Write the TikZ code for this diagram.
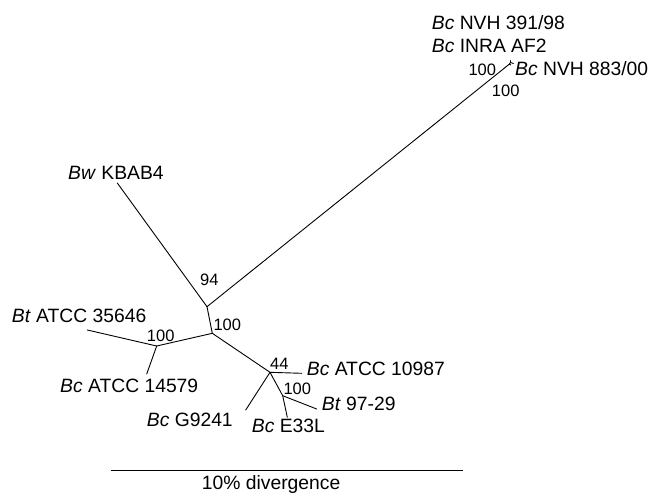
\documentclass[tikz,border=0pt]{standalone}
\usepackage{fontspec}
\setmainfont{Liberation Sans}
\begin{document}
\begin{tikzpicture}[x=1pt,y=-1pt,
  branch/.style={line width=0.9pt, line cap=round},
  taxon/.style={inner sep=0pt, anchor=base west, font=\fontsize{19.3}{22}\selectfont},
  boot/.style={inner sep=0pt, anchor=base west, font=\fontsize{16.5}{19}\selectfont},
  pt/.style={inner sep=0pt, minimum size=0pt}]
\useasboundingbox (0,0) rectangle (652,493);
% internal nodes
\coordinate (A) at (207,306.7);
\coordinate (B) at (212.3,333.3);
\coordinate (C) at (156.7,346);
\coordinate (D) at (270,372.3);
\coordinate (E) at (282.7,395.7);
\coordinate (N1) at (509.5,64);
\coordinate (N2) at (510.5,62.5);
% leaf ends
\coordinate (bw) at (117.3,183);
\coordinate (bt1) at (87.3,330);
\coordinate (bc1) at (146.7,374);
\coordinate (bc2) at (301.7,373.3);
\coordinate (g9) at (245.7,410);
\coordinate (bt2) at (316.7,409);
\coordinate (e33) at (287.3,417.3);
\coordinate (t1) at (510.5,60.5);
\coordinate (t2) at (513.5,63.5);
\coordinate (t3) at (510.8,65);
% branches
\draw[branch] (A) -- (bw);
\draw[branch] (A) -- (N1);
\draw[branch] (N1) -- (N2);
\draw[branch] (N2) -- (t1);
\draw[branch] (N2) -- (t2);
\draw[branch] (N1) -- (t3);
\draw[branch] (A) -- (B);
\draw[branch] (B) -- (C);
\draw[branch] (C) -- (bt1);
\draw[branch] (C) -- (bc1);
\draw[branch] (B) -- (D);
\draw[branch] (D) -- (bc2);
\draw[branch] (D) -- (g9);
\draw[branch] (D) -- (E);
\draw[branch] (E) -- (bt2);
\draw[branch] (E) -- (e33);
% taxon labels
\node[taxon] (l1) at (431.7,29.3) {\textit{Bc} NVH 391/98};
\node[taxon] (l2) at (431.7,52.3) {\textit{Bc} INRA AF2};
\node[taxon] (l3) at (515,75) {\textit{Bc} NVH 883/00};
\node[taxon] (l4) at (68,179) {\textit{Bw} KBAB4};
\node[taxon] (l5) at (11.7,322.3) {\textit{Bt} ATCC 35646};
\node[taxon] (l6) at (60,392) {\textit{Bc} ATCC 14579};
\node[taxon] (l7) at (306.7,375.7) {\textit{Bc} ATCC 10987};
\node[taxon] (l8) at (321.7,410.7) {\textit{Bt} 97-29};
\node[taxon] (l9) at (146.7,426) {\textit{Bc} G9241};
\node[taxon] (l10) at (251.7,432.3) {\textit{Bc} E33L};
% bootstrap values
\node[boot] (b1) at (468.3,75) {100};
\node[boot] (b2) at (491.7,96.7) {100};
\node[boot] (b3) at (200,285.7) {94};
\node[boot] (b4) at (213.3,330) {100};
\node[boot] (b5) at (146.7,341.7) {100};
\node[boot] (b6) at (270,369.3) {44};
\node[boot] (b7) at (283.3,394) {100};
% scale bar
\coordinate (s1) at (110.7,470);
\coordinate (s2) at (463.3,470);
\draw[branch, line cap=butt] (s1) -- (s2);
\node[taxon] (sl) at (201.7,489) {10\% divergence};
\end{tikzpicture}
\end{document}
